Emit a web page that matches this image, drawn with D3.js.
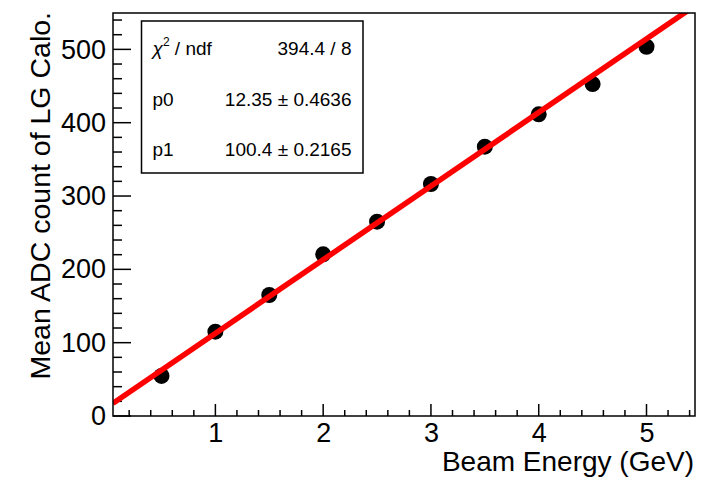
<!DOCTYPE html>
<html>
<head>
<meta charset="utf-8">
<script src="https://cdn.jsdelivr.net/npm/d3@7"></script>
<style>
  body { margin: 0; background: #fff; }
  svg { display: block; font-family: "Liberation Sans", Arial, Helvetica, sans-serif; }
</style>
</head>
<body>
<svg id="chart" width="719" height="479"></svg>
<script>
// beam energy (GeV) and mean ADC count
var energies = [0.5, 1, 1.5, 2, 2.5, 3, 3.5, 4, 4.5, 5];
var meanADC = [54.6, 115, 165, 220.5, 265, 316.4, 367.3, 411.4, 452.7, 503.6];

// fit result pol1: p0 + p1*x
var fitP0 = 12.35;
var fitP1 = 100.4;
var statLabels = ['chi2', 'p0', 'p1'];
var statValues = ['394.4 / 8', '12.35 \u00b1 0.4636', '100.4 \u00b1 0.2165'];

var xMajorTicks = [1, 2, 3, 4, 5];
var yMajorTicks = [0, 100, 200, 300, 400, 500];

var svg = d3.select('#chart');
var margin = {left: 113, top: 13, right: 24, bottom: 63};
var width = 719 - margin.left - margin.right;
var height = 479 - margin.top - margin.bottom;

var x = d3.scaleLinear().domain([0.05, 5.45]).range([0, width]);
var y = d3.scaleLinear().domain([0, 549.6]).range([height, 0]);

var g = svg.append('g')
    .attr('transform', 'translate(' + margin.left + ',' + margin.top + ')');

g.append('clipPath')
    .attr('id', 'frame-clip')
  .append('rect')
    .attr('width', width)
    .attr('height', height);

// minor ticks every 0.2 on x and 20 on y
var xMinor = d3.range(0.2, 5.45, 0.2).filter(function(d) {
  return Math.abs(d - Math.round(d)) > 1e-6;
});
var yMinor = d3.range(20, 549, 20).filter(function(d) { return d % 100 !== 0; });

var xAxis = d3.axisBottom(x).tickValues(xMajorTicks).tickSize(0).tickPadding(10)
    .tickFormat(d3.format('d'));
var xAx = g.append('g')
    .attr('transform', 'translate(0,' + height + ')')
    .call(xAxis);
xAx.select('.domain').remove();
xAx.selectAll('text')
    .attr('fill', '#000')
    .attr('font-size', 27)
    .attr('font-family', null)
    .attr('dy', '0.71em')
    .attr('y', 7);

var yAxis = d3.axisLeft(y).tickValues(yMajorTicks).tickSize(0).tickPadding(8)
    .tickFormat(d3.format('d'));
var yAx = g.append('g').call(yAxis);
yAx.select('.domain').remove();
yAx.selectAll('text')
    .attr('fill', '#000')
    .attr('font-size', 27)
    .attr('font-family', null)
    .attr('x', -7);

// inward ticks
var ticks = g.append('g').attr('stroke', '#000').attr('stroke-width', 1.5);
ticks.selectAll('.xmaj').data(xMajorTicks).enter().append('line')
    .attr('x1', x).attr('x2', x)
    .attr('y1', height).attr('y2', height - 12);
ticks.selectAll('.xmin').data(xMinor).enter().append('line')
    .attr('x1', x).attr('x2', x)
    .attr('y1', height).attr('y2', height - 6);
ticks.selectAll('.ymaj').data(yMajorTicks).enter().append('line')
    .attr('y1', y).attr('y2', y)
    .attr('x1', 0).attr('x2', 18);
ticks.selectAll('.ymin').data(yMinor).enter().append('line')
    .attr('y1', y).attr('y2', y)
    .attr('x1', 0).attr('x2', 9);

// data points
g.append('g').selectAll('circle')
    .data(energies)
  .enter().append('circle')
    .attr('cx', function(d) { return x(d); })
    .attr('cy', function(d, i) { return y(meanADC[i]); })
    .attr('r', 8)
    .attr('fill', '#000');

// fit line
var fitX = x.domain();
g.append('line')
    .attr('clip-path', 'url(#frame-clip)')
    .attr('x1', x(fitX[0])).attr('y1', y(fitP0 + fitP1 * fitX[0]))
    .attr('x2', x(fitX[1])).attr('y2', y(fitP0 + fitP1 * fitX[1]))
    .attr('stroke', '#ff0000')
    .attr('stroke-width', 5.5);

// frame
g.append('rect')
    .attr('width', width)
    .attr('height', height)
    .attr('fill', 'none')
    .attr('stroke', '#000')
    .attr('stroke-width', 1.5);

// axis titles
svg.append('text')
    .attr('x', margin.left + width - 1)
    .attr('y', 471)
    .attr('text-anchor', 'end')
    .attr('font-size', 28)
    .text('Beam Energy (GeV)');

svg.append('text')
    .attr('transform', 'translate(50,' + (margin.top - 1) + ') rotate(-90)')
    .attr('text-anchor', 'end')
    .attr('font-size', 28.5)
    .text('Mean ADC count of LG Calo.');

// stats box
var box = svg.append('g').attr('transform', 'translate(141.5,21)');
box.append('rect')
    .attr('width', 221.5)
    .attr('height', 152)
    .attr('fill', '#fff')
    .attr('stroke', '#000')
    .attr('stroke-width', 1.5);

var rowY = d3.scaleLinear().domain([0, 2]).range([34, 135]);
statLabels.forEach(function(lab, i) {
  var t = box.append('text')
      .attr('x', 11)
      .attr('y', rowY(i))
      .attr('font-size', 19);
  if (lab === 'chi2') {
    t.append('tspan').attr('font-style', 'italic').text('\u03c7');
    t.append('tspan').attr('font-size', 12).attr('dy', -9).text('2');
    t.append('tspan').attr('dy', 9).text(' / ndf');
  } else {
    t.text(lab);
  }
  box.append('text')
      .attr('x', 210)
      .attr('y', rowY(i))
      .attr('text-anchor', 'end')
      .attr('font-size', 19)
      .text(statValues[i]);
});
</script>
</body>
</html>
